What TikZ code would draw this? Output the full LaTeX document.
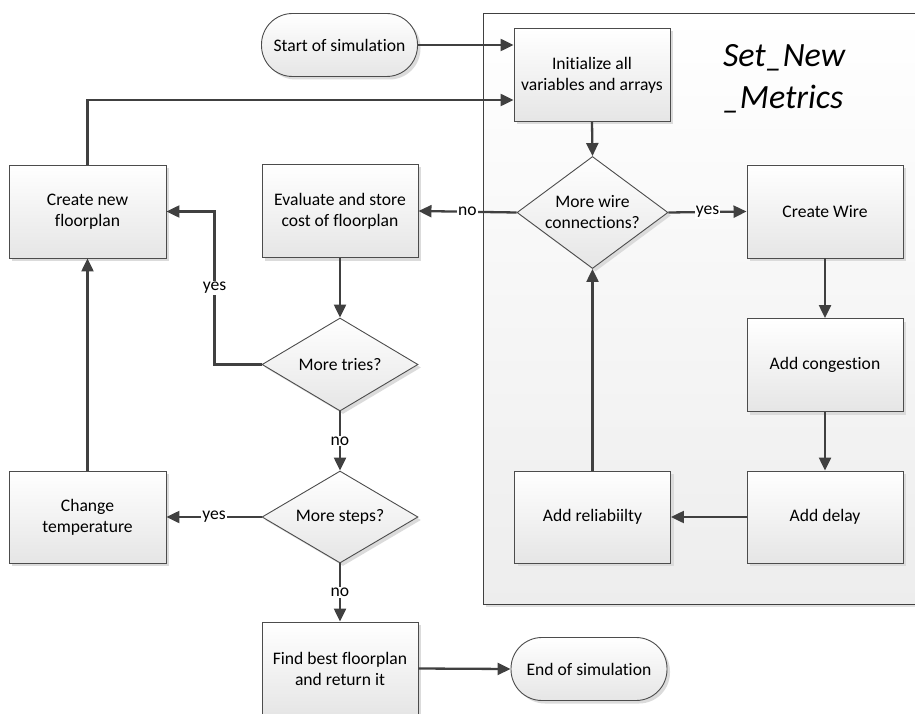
\documentclass[tikz,border=0pt]{standalone}
\usepackage{fontspec}
\setmainfont[Ligatures=NoCommon]{Carlito}
\usepackage{tikz}
\usetikzlibrary{shapes.geometric, arrows.meta, shadows, calc}

\tikzset{
  box/.style={rectangle, draw=black!70, line width=0.9pt, top color=white, bottom color=black!10,
    drop shadow={shadow xshift=3pt, shadow yshift=-3pt, fill=black!14, opacity=1},
    minimum width=156pt, minimum height=93pt, align=center, inner sep=2pt},
  terminal/.style={box, rounded corners=31pt, minimum height=63pt},
  decision/.style={box, diamond, minimum width=156pt, minimum height=93pt, inner sep=-4pt},
  flow/.style={draw=black!75, line width=2.3pt, -{Triangle[length=13pt,width=12pt]}},
  lbl/.style={fill=white, inner sep=1pt}
}

\begin{document}
\begin{tikzpicture}[x=1pt, y=-1pt, font=\fontsize{17.6}{21}\selectfont]
\useasboundingbox (0,0) rectangle (915,714);
\clip (0,0) rectangle (915,714);

\draw[draw=black!75, line width=0.9pt, top color=white, bottom color=black!7,
  drop shadow={shadow xshift=3pt, shadow yshift=-3pt, fill=black!12, opacity=1}] (483,13) rectangle (950,604);
\node[align=left, font=\fontsize{34}{42}\selectfont\itshape] (metrics) at (784,79) {Set\_New\\\_Metrics};

\node[terminal] (start) at (339.5,45) {Start of simulation};
\node[box] (init) at (592,75) {Initialize all\\variables and arrays};
\node[decision, minimum width=151pt] (wire) at (592.5,212.5) {More wire\\connections?};
\node[box] (eval) at (340,211) {Evaluate and store\\cost of floorplan};
\node[box] (cwire) at (825,211.5) {Create Wire};
\node[box] (cong) at (825,365) {Add congestion};
\node[box, minimum height=92pt] (delay) at (825,517) {Add delay};
\node[box, minimum height=92pt] (reliab) at (592.5,517) {Add reliabiilty};

\node[box, minimum width=157pt] (newfp) at (87.5,211.5) {Create new\\floorplan};
\node[decision] (tries) at (340,364.5) {More tries?};
\node[decision, minimum height=92pt] (steps) at (340,517) {More steps?};
\node[box, minimum width=157pt, minimum height=92pt] (temp) at (87.5,517) {Change\\temperature};
\node[box] (best) at (340,668.5) {Find best floorplan\\and return it};
\node[terminal] (end) at (589,669) {End of simulation};

\coordinate (initin) at ([yshift=-25pt]init.west);

\draw[flow] (start.east) -- (start.east -| init.west);
\draw[flow] (newfp.north) |- (initin);
\draw[flow] (init.south) -- (wire.north);
\draw[flow] (wire.west) -- node[lbl] {no} (eval.east);
\draw[flow] (wire.east) -- node[lbl] {yes} (cwire.west);
\draw[flow] (cwire.south) -- (cong.north);
\draw[flow] (cong.south) -- (delay.north);
\draw[flow] (delay.west) -- (reliab.east);
\draw[flow] (reliab.north) -- (wire.south);

\draw[flow] (eval.south) -- (tries.north);
\draw[flow] (tries.west) -- ++(-47,0) |- node[lbl, pos=0.25] {yes} (newfp.east);
\draw[flow] (tries.south) -- node[lbl] {no} (steps.north);
\draw[flow] (steps.west) -- node[lbl] {yes} (temp.east);
\draw[flow] (temp.north) -- (newfp.south);
\draw[flow] (steps.south) -- node[lbl] {no} (best.north);
\draw[flow] (best.east) -- (end.west);

\end{tikzpicture}
\end{document}
